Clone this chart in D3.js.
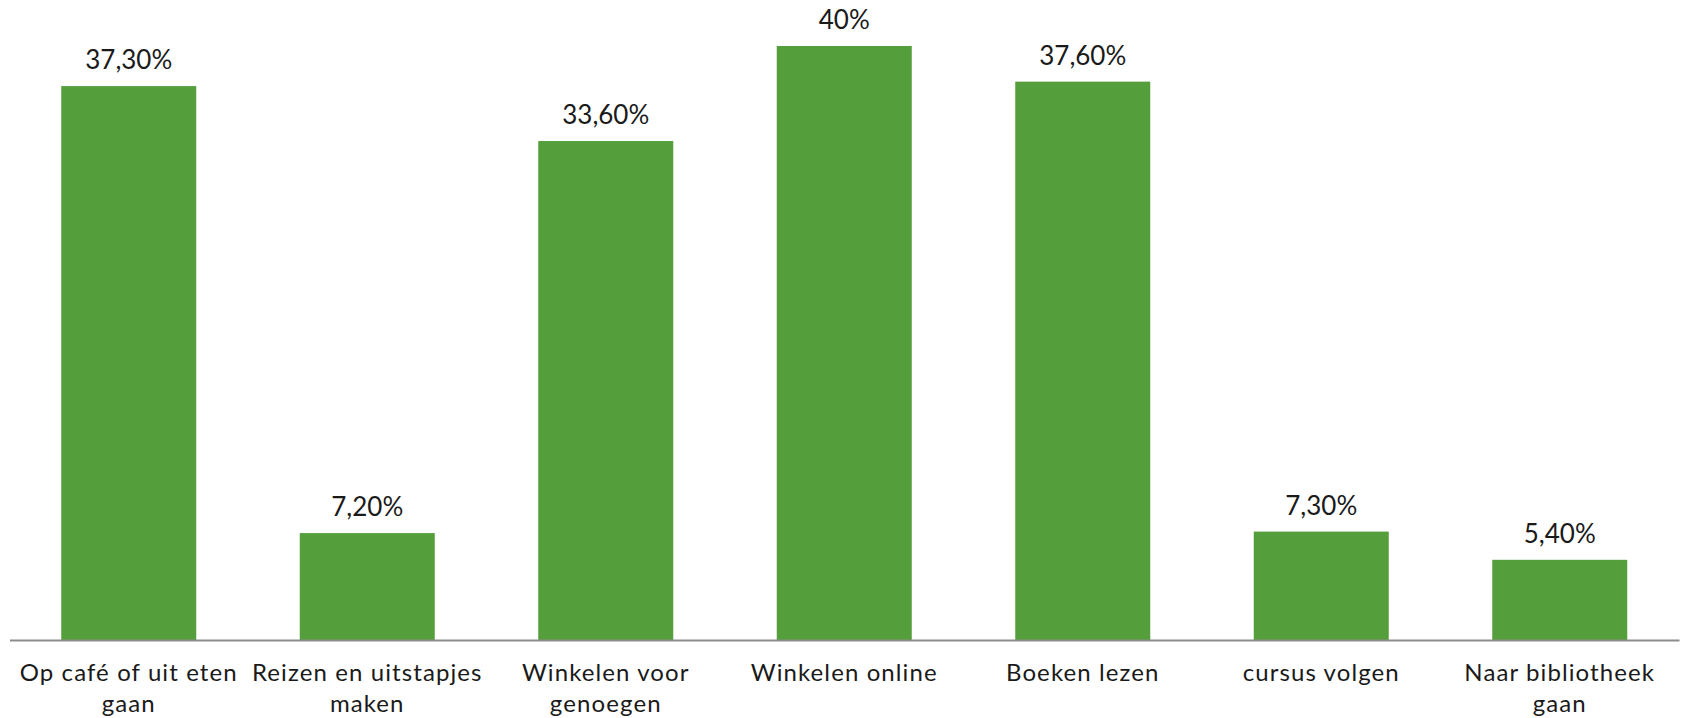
<!DOCTYPE html>
<html>
<head>
<meta charset="utf-8">
<script src="https://cdn.jsdelivr.net/npm/d3@7"></script>
<style>
  html, body { margin: 0; padding: 0; background: #ffffff; }
  svg { display: block; }
  text { font-family: "Lato", "Open Sans", sans-serif; fill: #1a1a1a; }
</style>
</head>
<body>
<svg id="chart" width="1683" height="718"></svg>
<script>
// Activities and share of respondents (%)
const categories = [
  "Op café of uit eten gaan",
  "Reizen en uitstapjes maken",
  "Winkelen voor genoegen",
  "Winkelen online",
  "Boeken lezen",
  "cursus volgen",
  "Naar bibliotheek gaan"
];
const values = [37.3, 7.2, 33.6, 40, 37.6, 7.3, 5.4];

const baseY = 640, topY = 46;
const svg = d3.select("#chart");

const x = d3.scaleBand()
  .domain(categories)
  .range([9.5, 1679])
  .paddingInner(0.434)
  .paddingOuter(0.217);

const y = d3.scaleLinear()
  .domain([0, 40])
  .range([baseY, topY]);

// Dutch-style percentage labels: 37,30% / 40%
const fmt = v => Number.isInteger(v) ? v + "%" : v.toFixed(2).replace(".", ",") + "%";

// Bars
svg.append("g")
  .selectAll("rect")
  .data(values)
  .join("rect")
  .attr("x", (d, i) => x(categories[i]))
  .attr("y", d => y(d))
  .attr("width", x.bandwidth())
  .attr("height", d => baseY - y(d))
  .attr("fill", "#549e3b");

// Value labels above bars
svg.append("g")
  .selectAll("text")
  .data(values)
  .join("text")
  .attr("x", (d, i) => x(categories[i]) + x.bandwidth() / 2)
  .attr("y", d => y(d) - 17)
  .attr("text-anchor", "middle")
  .style("font-size", "26px")
  .text(d => fmt(d));

// Category axis
const axis = svg.append("g")
  .attr("transform", `translate(0,${baseY})`)
  .call(d3.axisBottom(x).tickSize(0).tickSizeOuter(0).tickPadding(0));

axis.select(".domain")
  .attr("stroke", "#8c8c8c")
  .attr("stroke-width", 2);

// Wrap category names within the band step
const firstLine = 41, lineGap = 30.5;
function wrap(sel, width) {
  sel.each(function () {
    const t = d3.select(this);
    const words = t.text().split(/\s+/);
    t.text(null).attr("dy", null).attr("y", firstLine);
    let line = [];
    let lineNo = 0;
    let tspan = t.append("tspan").attr("x", 0).attr("y", firstLine);
    for (const w of words) {
      line.push(w);
      tspan.text(line.join(" "));
      if (tspan.node().getComputedTextLength() > width && line.length > 1) {
        line.pop();
        tspan.text(line.join(" "));
        line = [w];
        lineNo++;
        tspan = t.append("tspan").attr("x", 0).attr("y", firstLine + lineNo * lineGap).text(w);
      }
    }
  });
}

axis.selectAll(".tick text")
  .attr("fill", "#1a1a1a")
  .style("font-size", "24px")
  .style("letter-spacing", "1.1px")
  .style("font-family", "Lato, 'Open Sans', sans-serif")
  .call(wrap, x.step() - 4);
</script>
</body>
</html>
